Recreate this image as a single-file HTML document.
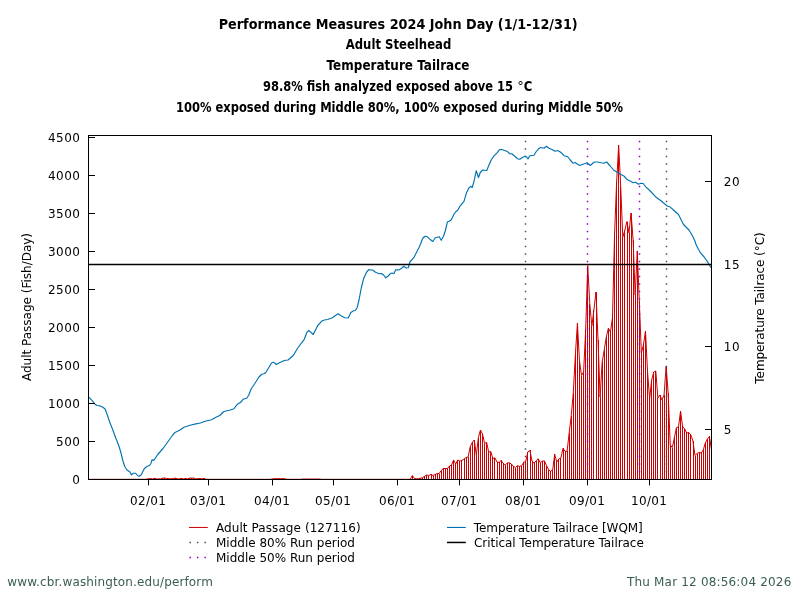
<!DOCTYPE html><html><head><meta charset="utf-8"><title>Performance Measures 2024 John Day</title>
<style>html,body{margin:0;padding:0;background:#fff}svg{display:block;font-family:"DejaVu Sans", "Liberation Sans", sans-serif;font-size:12px;fill:#000}</style></head><body>
<svg width="800" height="600" viewBox="0 0 800 600">
<rect width="800" height="600" fill="#fff"/>
<text x="398.2" y="29" text-anchor="middle" textLength="359" lengthAdjust="spacingAndGlyphs" font-weight="bold" font-size="13.7">Performance Measures 2024 John Day (1/1-12/31)</text>
<text x="398.5" y="49" text-anchor="middle" textLength="105.5" lengthAdjust="spacingAndGlyphs" font-weight="bold" font-size="13.7">Adult Steelhead</text>
<text x="398" y="70" text-anchor="middle" textLength="143" lengthAdjust="spacingAndGlyphs" font-weight="bold" font-size="13.7">Temperature Tailrace</text>
<text x="388" y="91" text-anchor="middle" textLength="250" lengthAdjust="spacingAndGlyphs" font-weight="bold" font-size="13.7">98.8% fish analyzed exposed above 15</text>
<text x="517.2" y="90.2" font-size="13">°</text>
<text x="523.8" y="91" textLength="8.6" lengthAdjust="spacingAndGlyphs" font-weight="bold" font-size="13.7">C</text>
<text x="399.5" y="112" text-anchor="middle" textLength="447.2" lengthAdjust="spacingAndGlyphs" font-weight="bold" font-size="13.7">100% exposed during Middle 80%, 100% exposed during Middle 50%</text>
<path d="M154.5 479.5V478.0M162.5 479.5V478.0M164.5 479.5V478.0M175.5 479.5V478.0M181.5 479.5V478.0M185.5 479.5V478.0M189.5 479.5V478.0M191.5 479.5V478.0M193.5 479.5V478.0M204.5 479.5V478.0M412.5 479.5V476.0M420.5 479.5V478.0M422.5 479.5V478.0M424.5 479.5V476.0M426.5 479.5V475.0M428.5 479.5V476.0M431.5 479.5V474.0M433.5 479.5V476.0M435.5 479.5V474.0M437.5 479.5V474.0M439.5 479.5V474.0M441.5 479.5V470.0M443.5 479.5V468.0M445.5 479.5V468.0M447.5 479.5V468.0M449.5 479.5V466.0M451.5 479.5V465.0M453.5 479.5V460.0M455.5 479.5V464.0M457.5 479.5V460.0M459.5 479.5V461.0M461.5 479.5V460.0M464.5 479.5V459.0M466.5 479.5V458.0M468.5 479.5V457.0M470.5 479.5V447.0M472.5 479.5V442.0M474.5 479.5V440.0M476.5 479.5V455.0M478.5 479.5V438.0M480.5 479.5V430.0M482.5 479.5V434.0M484.5 479.5V444.0M486.5 479.5V442.0M488.5 479.5V452.0M490.5 479.5V452.0M492.5 479.5V458.0M494.5 479.5V458.0M497.5 479.5V462.0M499.5 479.5V462.0M501.5 479.5V460.0M503.5 479.5V463.0M505.5 479.5V465.0M507.5 479.5V463.0M509.5 479.5V463.0M511.5 479.5V464.0M513.5 479.5V466.0M515.5 479.5V468.0M517.5 479.5V466.0M519.5 479.5V466.0M521.5 479.5V466.0M523.5 479.5V462.0M525.5 479.5V461.0M527.5 479.5V452.0M530.5 479.5V450.0M532.5 479.5V461.0M534.5 479.5V463.0M536.5 479.5V461.0M538.5 479.5V459.0M540.5 479.5V463.0M542.5 479.5V461.0M544.5 479.5V461.0M546.5 479.5V466.0M548.5 479.5V470.0M550.5 479.5V471.0M552.5 479.5V470.0M554.5 479.5V454.0M556.5 479.5V462.0M558.5 479.5V459.0M560.5 479.5V458.0M563.5 479.5V448.0M565.5 479.5V451.0M567.5 479.5V451.0M569.5 479.5V433.0M571.5 479.5V416.0M573.5 479.5V393.0M575.5 479.5V355.0M577.5 479.5V323.0M579.5 479.5V361.0M581.5 479.5V376.0M583.5 479.5V372.0M585.5 479.5V330.0M587.5 479.5V266.0M589.5 479.5V304.0M591.5 479.5V326.0M593.5 479.5V310.0M596.5 479.5V292.0M598.5 479.5V340.0M600.5 479.5V397.0M602.5 479.5V362.0M604.5 479.5V350.0M606.5 479.5V337.0M608.5 479.5V328.0M610.5 479.5V332.0M612.5 479.5V318.0M614.5 479.5V235.0M616.5 479.5V182.0M618.5 479.5V145.0M620.5 479.5V187.0M622.5 479.5V237.0M624.5 479.5V230.0M627.5 479.5V222.0M629.5 479.5V233.0M631.5 479.5V213.0M633.5 479.5V240.0M635.5 479.5V295.0M637.5 479.5V251.0M639.5 479.5V301.0M641.5 479.5V353.0M643.5 479.5V345.0M645.5 479.5V331.0M647.5 479.5V372.0M649.5 479.5V398.0M651.5 479.5V380.0M653.5 479.5V372.0M655.5 479.5V371.0M657.5 479.5V398.0M660.5 479.5V395.0M662.5 479.5V400.0M664.5 479.5V395.0M666.5 479.5V366.0M668.5 479.5V393.0M670.5 479.5V445.0M672.5 479.5V448.0M674.5 479.5V438.0M676.5 479.5V428.0M678.5 479.5V427.0M680.5 479.5V411.0M682.5 479.5V426.0M684.5 479.5V429.0M686.5 479.5V433.0M688.5 479.5V432.0M690.5 479.5V435.0M693.5 479.5V441.0M695.5 479.5V456.0M697.5 479.5V454.0M699.5 479.5V452.0M701.5 479.5V453.0M703.5 479.5V450.0M705.5 479.5V443.0M707.5 479.5V439.0M709.5 479.5V436.0M711.5 479.5V450.0" stroke="#cc0000" stroke-width="1" fill="none"/>
<polyline points="88.50,479.30 90.56,479.30 92.63,479.30 94.69,479.30 96.75,479.30 98.81,479.30 100.88,479.30 102.94,479.30 105.00,479.30 107.07,479.30 109.13,479.30 111.19,479.30 113.25,479.30 115.32,479.30 117.38,479.30 119.44,479.30 121.51,479.30 123.57,479.30 125.63,479.30 127.70,479.30 129.76,479.30 131.82,479.30 133.88,479.30 135.95,479.30 138.01,479.30 140.07,479.30 142.14,479.30 144.20,479.30 146.26,479.30 148.32,478.59 150.39,478.49 152.45,478.88 154.51,478.43 156.58,478.85 158.64,478.79 160.70,478.91 162.76,478.10 164.83,478.10 166.89,478.46 168.95,478.65 171.02,478.83 173.08,478.54 175.14,478.10 177.21,478.80 179.27,478.77 181.33,478.41 183.39,478.94 185.46,478.40 187.52,478.85 189.58,478.10 191.65,478.10 193.71,478.10 195.77,478.84 197.83,478.58 199.90,478.50 201.96,478.87 204.02,478.44 206.09,479.30 208.15,479.30 210.21,479.30 212.27,479.30 214.34,479.30 216.40,479.30 218.46,479.30 220.53,479.30 222.59,479.30 224.65,479.30 226.72,479.30 228.78,479.30 230.84,479.30 232.90,479.30 234.97,479.30 237.03,479.30 239.09,479.30 241.16,479.30 243.22,479.30 245.28,479.30 247.34,479.30 249.41,479.30 251.47,479.30 253.53,479.30 255.60,479.30 257.66,479.30 259.72,479.30 261.78,479.30 263.85,479.30 265.91,479.30 267.97,479.30 270.04,479.30 272.10,479.00 274.16,478.60 276.23,478.60 278.29,478.60 280.35,478.60 282.41,478.60 284.48,478.60 286.54,479.30 288.60,479.30 290.67,479.30 292.73,479.30 294.79,479.30 296.85,479.30 298.92,479.30 300.98,479.30 303.04,479.00 305.11,479.00 307.17,479.00 309.23,479.00 311.29,479.00 313.36,479.00 315.42,479.00 317.48,479.00 319.55,479.00 321.61,479.30 323.67,479.30 325.74,479.30 327.80,479.30 329.86,479.30 331.92,479.30 333.99,479.30 336.05,479.30 338.11,479.30 340.18,479.30 342.24,479.30 344.30,479.30 346.36,479.30 348.43,479.30 350.49,479.30 352.55,479.30 354.62,479.30 356.68,479.30 358.74,479.30 360.80,479.30 362.87,479.30 364.93,479.30 366.99,479.30 369.06,479.30 371.12,479.30 373.18,479.30 375.25,479.30 377.31,479.30 379.37,479.30 381.43,479.30 383.50,479.30 385.56,479.30 387.62,479.30 389.69,479.30 391.75,479.30 393.81,479.30 395.87,479.30 397.94,479.30 400.00,479.30 402.06,479.30 404.13,479.30 406.19,479.30 408.25,479.30 410.31,479.30 412.38,475.50 414.44,478.60 416.50,478.60 418.57,478.60 420.63,478.20 422.69,477.50 424.75,476.20 426.82,475.00 428.88,475.50 430.94,474.50 433.01,475.50 435.07,474.50 437.13,473.50 439.20,473.50 441.26,470.50 443.32,468.50 445.38,468.50 447.45,468.50 449.51,466.00 451.57,465.00 453.64,460.00 455.70,464.00 457.76,460.00 459.82,461.00 461.89,460.50 463.95,459.00 466.01,457.50 468.08,457.00 470.14,447.00 472.20,442.50 474.26,440.00 476.33,455.00 478.39,437.50 480.45,430.00 482.52,434.00 484.58,443.50 486.64,442.50 488.71,452.00 490.77,451.50 492.83,458.50 494.89,457.80 496.96,462.00 499.02,462.50 501.08,460.50 503.15,463.20 505.21,465.00 507.27,463.00 509.33,462.80 511.40,464.00 513.46,466.50 515.52,467.50 517.59,465.50 519.65,466.50 521.71,465.50 523.77,462.50 525.84,461.00 527.90,451.80 529.96,450.50 532.03,461.00 534.09,463.20 536.15,460.70 538.22,458.70 540.28,462.70 542.34,461.20 544.40,460.80 546.47,465.50 548.53,469.50 550.59,471.30 552.66,469.75 554.72,454.30 556.78,462.00 558.84,458.90 560.91,458.00 562.97,448.40 565.03,451.20 567.10,451.40 569.16,433.00 571.22,416.00 573.28,393.00 575.35,355.00 577.41,323.30 579.47,361.00 581.54,375.50 583.60,372.00 585.66,330.00 587.73,265.60 589.79,304.00 591.85,326.00 593.91,310.00 595.98,292.00 598.04,340.00 600.10,397.00 602.17,362.00 604.23,350.00 606.29,337.00 608.35,328.30 610.42,332.00 612.48,318.00 614.54,235.00 616.61,182.00 618.67,145.20 620.73,187.00 622.79,237.00 624.86,230.00 626.92,221.50 628.98,233.00 631.05,213.00 633.11,240.00 635.17,295.00 637.24,251.00 639.30,301.00 641.36,353.00 643.42,345.00 645.49,331.00 647.55,372.00 649.61,398.50 651.68,380.00 653.74,372.00 655.80,371.00 657.86,398.00 659.93,395.00 661.99,400.00 664.05,395.00 666.12,366.50 668.18,393.00 670.24,445.00 672.30,447.50 674.37,438.00 676.43,427.50 678.49,427.00 680.56,411.00 682.62,426.50 684.68,429.00 686.75,433.00 688.81,432.50 690.87,435.00 692.93,441.00 695.00,455.50 697.06,453.50 699.12,452.50 701.19,453.00 703.25,450.00 705.31,443.00 707.37,439.00 709.44,436.50 711.50,450.00" stroke="#cc0000" stroke-width="1" fill="none" stroke-linejoin="round"/>
<line x1="525.5" x2="525.5" y1="479.7" y2="136" stroke="#505050" stroke-width="1.5" stroke-dasharray="1.5 6"/>
<line x1="666.5" x2="666.5" y1="479.7" y2="136" stroke="#505050" stroke-width="1.5" stroke-dasharray="1.5 6"/>
<line x1="587.5" x2="587.5" y1="479.7" y2="136" stroke="#9400d3" stroke-width="1.5" stroke-dasharray="1.5 6"/>
<line x1="639.5" x2="639.5" y1="479.7" y2="136" stroke="#9400d3" stroke-width="1.5" stroke-dasharray="1.5 6"/>
<polyline points="88.75,397.05 91.75,400.20 94.75,403.95 97.00,405.45 100.00,405.90 103.00,407.25 105.25,409.20 107.50,415.50 109.75,422.25 112.75,429.75 115.75,438.00 118.75,445.50 121.00,453.00 122.80,460.50 124.75,466.50 127.00,469.95 129.70,471.75 131.50,474.90 133.30,473.25 135.70,473.25 137.50,475.50 139.30,476.25 141.25,474.75 142.75,471.75 144.25,468.75 146.50,466.80 149.80,465.30 151.00,463.20 152.05,459.75 153.25,460.50 154.30,459.75 157.75,454.50 163.00,448.50 169.00,440.25 172.75,435.00 175.00,432.45 179.50,430.20 184.00,427.20 190.00,425.25 196.00,423.90 200.50,423.00 205.00,421.20 211.50,419.70 216.00,417.30 219.75,415.50 223.50,411.75 225.75,411.00 229.50,410.25 234.00,408.75 237.00,404.55 240.75,402.30 243.00,399.30 246.75,398.25 248.70,395.25 251.25,388.80 255.00,383.25 258.75,377.25 261.75,374.25 264.00,373.80 265.80,372.45 268.50,367.95 271.50,363.00 273.30,362.25 274.80,363.00 276.30,364.50 279.00,363.00 284.25,360.45 288.00,360.00 293.25,355.50 297.75,348.00 304.20,339.30 307.20,331.80 308.75,330.30 313.25,334.50 317.75,325.50 322.25,320.70 324.50,319.95 327.50,319.50 332.00,318.00 338.00,313.80 341.00,315.75 344.75,317.70 348.20,318.00 350.75,312.75 353.00,310.95 355.25,310.50 357.20,307.50 359.00,300.00 361.25,288.00 363.50,279.00 366.50,272.25 368.75,269.70 372.50,270.00 375.50,272.25 379.25,273.75 381.50,273.45 383.75,275.25 385.70,277.80 388.25,276.00 390.50,273.45 392.00,273.00 393.80,273.75 395.75,269.70 398.75,270.00 401.00,268.80 403.70,266.25 406.25,268.05 408.20,267.75 410.00,261.75 413.75,257.70 416.75,252.00 419.75,246.00 422.75,238.20 425.00,236.25 427.25,236.70 430.25,239.55 432.80,241.50 435.20,237.75 439.25,236.70 441.20,240.30 443.30,236.70 445.25,231.00 447.50,221.70 449.30,221.25 451.25,219.75 454.25,213.75 455.75,211.80 457.70,210.30 460.25,205.80 464.00,201.45 465.50,196.20 466.50,192.75 468.75,188.25 470.70,186.45 472.20,187.50 474.00,181.50 476.25,170.70 478.50,177.45 480.30,172.50 482.70,169.95 486.75,170.55 489.00,165.00 491.25,159.75 494.25,155.70 497.25,152.70 499.50,149.70 501.75,149.55 505.50,150.75 507.75,151.80 509.70,153.75 511.80,153.75 514.50,156.00 517.50,158.70 519.75,159.30 522.75,157.20 525.00,156.30 526.50,156.75 528.00,159.00 529.80,155.70 534.00,155.25 536.25,151.50 538.50,148.80 540.75,147.45 544.20,148.20 546.45,146.25 549.00,148.20 552.00,149.55 555.00,151.20 557.70,150.45 560.70,152.25 564.00,155.70 567.75,156.75 570.00,159.75 573.00,163.20 575.25,162.45 577.50,164.25 579.75,165.45 583.00,164.25 587.20,162.75 590.20,165.45 594.25,162.00 597.25,162.00 601.00,162.75 604.00,163.20 606.70,162.00 610.00,165.75 613.75,170.25 616.75,172.05 620.50,174.30 624.25,176.25 627.25,179.55 631.00,181.50 633.25,182.70 635.50,182.25 638.50,184.20 640.75,183.30 643.30,183.45 645.25,186.30 649.75,190.50 655.75,196.95 661.00,200.70 663.00,202.50 667.50,206.20 670.00,206.80 674.00,210.50 678.50,214.50 681.00,219.50 683.50,224.50 689.00,230.00 692.00,235.00 694.50,240.00 696.25,245.00 698.50,249.50 701.00,253.50 704.00,256.75 707.00,261.00 709.00,264.25 711.25,268.00" stroke="#0072b2" stroke-width="1.15" fill="none" stroke-linejoin="round"/>
<line x1="88.5" x2="711.5" y1="264.45" y2="264.45" stroke="#000" stroke-width="1.5"/>
<rect x="88.5" y="135.5" width="623" height="344" fill="none" stroke="#000" stroke-width="1"/>
<line x1="89" x2="95" y1="479.5" y2="479.5" stroke="#000"/>
<text x="80" y="484.0" text-anchor="end" >0</text>
<line x1="89" x2="95" y1="441.5" y2="441.5" stroke="#000"/>
<text x="80" y="446.0" text-anchor="end" textLength="24.1" lengthAdjust="spacing" >500</text>
<line x1="89" x2="95" y1="403.5" y2="403.5" stroke="#000"/>
<text x="80" y="408.0" text-anchor="end" textLength="32.1" lengthAdjust="spacing" >1000</text>
<line x1="89" x2="95" y1="365.5" y2="365.5" stroke="#000"/>
<text x="80" y="370.0" text-anchor="end" textLength="32.1" lengthAdjust="spacing" >1500</text>
<line x1="89" x2="95" y1="327.5" y2="327.5" stroke="#000"/>
<text x="80" y="332.0" text-anchor="end" textLength="32.1" lengthAdjust="spacing" >2000</text>
<line x1="89" x2="95" y1="289.5" y2="289.5" stroke="#000"/>
<text x="80" y="294.0" text-anchor="end" textLength="32.1" lengthAdjust="spacing" >2500</text>
<line x1="89" x2="95" y1="251.5" y2="251.5" stroke="#000"/>
<text x="80" y="256.0" text-anchor="end" textLength="32.1" lengthAdjust="spacing" >3000</text>
<line x1="89" x2="95" y1="213.5" y2="213.5" stroke="#000"/>
<text x="80" y="218.0" text-anchor="end" textLength="32.1" lengthAdjust="spacing" >3500</text>
<line x1="89" x2="95" y1="175.5" y2="175.5" stroke="#000"/>
<text x="80" y="180.0" text-anchor="end" textLength="32.1" lengthAdjust="spacing" >4000</text>
<line x1="89" x2="95" y1="137.5" y2="137.5" stroke="#000"/>
<text x="80" y="142.0" text-anchor="end" textLength="32.1" lengthAdjust="spacing" >4500</text>
<line x1="705" x2="711" y1="429.5" y2="429.5" stroke="#000"/>
<text x="723.7" y="434.0" textLength="15.9" lengthAdjust="spacing">5</text>
<line x1="705" x2="711" y1="346.5" y2="346.5" stroke="#000"/>
<text x="723.7" y="351.0" textLength="15.9" lengthAdjust="spacing">10</text>
<line x1="705" x2="711" y1="264.5" y2="264.5" stroke="#000"/>
<text x="723.7" y="269.0" textLength="15.9" lengthAdjust="spacing">15</text>
<line x1="705" x2="711" y1="181.5" y2="181.5" stroke="#000"/>
<text x="723.7" y="186.0" textLength="15.9" lengthAdjust="spacing">20</text>
<line x1="148.5" x2="148.5" y1="480" y2="485.4" stroke="#000"/>
<text x="148.0" y="504.8" text-anchor="middle" textLength="35.8" lengthAdjust="spacing">02/01</text>
<line x1="208.5" x2="208.5" y1="480" y2="485.4" stroke="#000"/>
<text x="208.0" y="504.8" text-anchor="middle" textLength="35.8" lengthAdjust="spacing">03/01</text>
<line x1="272.5" x2="272.5" y1="480" y2="485.4" stroke="#000"/>
<text x="272.0" y="504.8" text-anchor="middle" textLength="35.8" lengthAdjust="spacing">04/01</text>
<line x1="333.5" x2="333.5" y1="480" y2="485.4" stroke="#000"/>
<text x="333.0" y="504.8" text-anchor="middle" textLength="35.8" lengthAdjust="spacing">05/01</text>
<line x1="397.5" x2="397.5" y1="480" y2="485.4" stroke="#000"/>
<text x="397.0" y="504.8" text-anchor="middle" textLength="35.8" lengthAdjust="spacing">06/01</text>
<line x1="459.5" x2="459.5" y1="480" y2="485.4" stroke="#000"/>
<text x="459.0" y="504.8" text-anchor="middle" textLength="35.8" lengthAdjust="spacing">07/01</text>
<line x1="523.5" x2="523.5" y1="480" y2="485.4" stroke="#000"/>
<text x="523.0" y="504.8" text-anchor="middle" textLength="35.8" lengthAdjust="spacing">08/01</text>
<line x1="587.5" x2="587.5" y1="480" y2="485.4" stroke="#000"/>
<text x="587.0" y="504.8" text-anchor="middle" textLength="35.8" lengthAdjust="spacing">09/01</text>
<line x1="649.5" x2="649.5" y1="480" y2="485.4" stroke="#000"/>
<text x="649.0" y="504.8" text-anchor="middle" textLength="35.8" lengthAdjust="spacing">10/01</text>
<text transform="translate(31,307) rotate(-90)" text-anchor="middle">Adult Passage (Fish/Day)</text>
<text transform="translate(764,308) rotate(-90)" text-anchor="middle" textLength="151.3" lengthAdjust="spacing">Temperature Tailrace (°C)</text>
<line x1="189" x2="207.8" y1="527.45" y2="527.45" stroke="#cc0000"/>
<text x="216" y="532" textLength="144.6" lengthAdjust="spacing">Adult Passage (127116)</text>
<line x1="189.45" x2="207.5" y1="542.45" y2="542.45" stroke="#505050" stroke-width="1.5" stroke-dasharray="1.5 6"/>
<line x1="189.45" x2="207.5" y1="557.45" y2="557.45" stroke="#9400d3" stroke-width="1.5" stroke-dasharray="1.5 6"/>
<text x="216" y="547">Middle 80% Run period</text>
<text x="216" y="562">Middle 50% Run period</text>
<line x1="447" x2="465.8" y1="527.45" y2="527.45" stroke="#0072b2" stroke-width="1.1"/>
<text x="473.8" y="532" textLength="169" lengthAdjust="spacing">Temperature Tailrace [WQM]</text>
<line x1="447" x2="465.8" y1="542.45" y2="542.45" stroke="#000" stroke-width="1.5"/>
<text x="474" y="547" textLength="169.8" lengthAdjust="spacing">Critical Temperature Tailrace</text>
<text x="7.3" y="586" textLength="205.6" lengthAdjust="spacing" style="fill:#3a5f50">www.cbr.washington.edu/perform</text>
<text x="627" y="586" textLength="164.3" lengthAdjust="spacing" style="fill:#3a5f50">Thu Mar 12 08:56:04 2026</text>
</svg></body></html>
